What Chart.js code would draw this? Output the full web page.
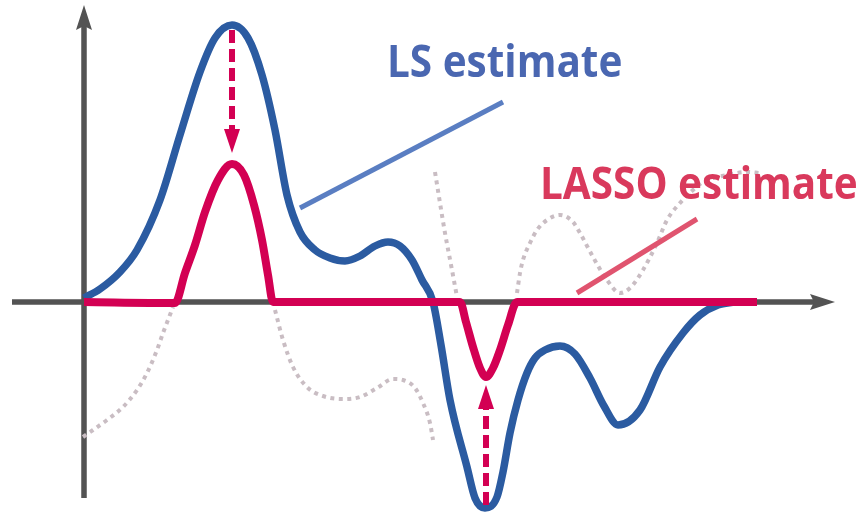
<!DOCTYPE html>
<html>
<head>
<meta charset="utf-8">
<title>LS vs LASSO estimate</title>
<script src="https://cdn.jsdelivr.net/npm/chart.js@4/dist/chart.umd.min.js"></script>
<style>
  html, body { margin: 0; padding: 0; background: #ffffff; }
  #wrap { position: relative; width: 866px; height: 519px; }
</style>
</head>
<body>
<div id="wrap"><canvas id="chart"></canvas></div>
<script>
// Least-squares estimate (smooth curve)
const lsX = [0, 16, 36, 53, 76, 96, 116, 131, 148, 164, 178, 191, 203, 216, 231, 246, 261, 276, 291, 304, 316, 328, 338, 349, 357, 366, 383, 391, 401, 413, 419, 426, 434, 443, 451, 461, 476, 491, 506, 520, 534, 556, 576, 599, 616, 634, 651];
const lsY = [4, 13, 30, 52, 102, 167, 230, 264, 277, 264, 227, 172, 107, 70, 52, 44, 41, 46, 56, 60, 56, 42, 22, 0, -43, -98, -165, -196, -206, -195, -170, -131, -98, -71, -56, -48, -44, -52, -76, -104, -123, -108, -65, -31, -13, -3, 0];

// LASSO estimate (soft-thresholded: zero outside the two bumps)
const lassoX = [0, 91, 101, 111, 121, 134, 148, 160, 170, 178, 184, 189, 376, 382, 389, 396, 402, 409, 416, 424, 433, 673];
const lassoY = [0, -1, 29, 57, 90, 122, 138, 127, 97, 62, 27, 0, 0, -20, -45, -66, -75, -66, -48, -23, 0, 0];

// Dotted continuations of the thresholded pieces
const ghostAX = [-1, 9, 23, 39, 53, 63, 73, 79, 84, 89];
const ghostAY = [-135, -128, -118, -105, -88, -71, -48, -31, -18, -5];
const ghostBX = [191, 199, 209, 223, 239, 259, 276, 293, 309, 319, 331, 339, 346, 349];
const ghostBY = [-8, -38, -65, -85, -94, -97, -95, -86, -77, -78, -86, -101, -121, -138];
const ghostCX = [351, 356, 361, 368, 373];
const ghostCY = [130, 99, 69, 32, 5];
const ghostDX = [433, 436, 439, 446, 453, 463, 476, 489, 496, 509, 523, 536, 546, 559, 573, 583, 596, 609, 619, 643, 663, 676];
const ghostDY = [9, 29, 42, 59, 72, 82, 87, 80, 69, 45, 22, 9, 14, 32, 59, 82, 99, 112, 120, 127, 130, 129];

// Shrinkage arrows: [x, fromY, toY]
const shrinkDown = [148, 272, 149];
const shrinkUp = [402, -203, -83];

// Label pointers: [x0, y0, x1, y1]
const lsPointer = [216, 94, 419, 200];
const lassoPointer = [493, 9, 613, 83];

// Labels: [text, x, y] (left edge, baseline)
const lsLabel = ['LS estimate', 303, 225];
const lassoLabel = ['LASSO estimate', 456, 103];

// Axis extents
const xAxisSpan = [-72, 751];
const yAxisSpan = [-196, 297];
const xRange = [-84, 782];
const yRange = [-217, 302];

const COL = {
  axis: '#535353',
  ls: '#2b5ba1',
  lasso: '#d30053',
  ghost: '#c9bdc3',
  lsText: '#4a67b1',
  lassoText: '#d9395c',
  lsPtr: '#5a7ec2',
  lassoPtr: '#e0546f'
};

const pts = (xs, ys) => xs.map((x, i) => ({ x, y: ys[i] }));

function curve(xs, ys, color, width, order, extra) {
  return Object.assign({
    data: pts(xs, ys),
    borderColor: color,
    borderWidth: width,
    pointRadius: 0,
    fill: false,
    cubicInterpolationMode: 'monotone',
    order
  }, extra || {});
}

function segment(p, color, width, order, extra) {
  return Object.assign({
    data: [{ x: p[0], y: p[1] }, { x: p[2], y: p[3] }],
    borderColor: color,
    borderWidth: width,
    pointRadius: 0,
    fill: false,
    tension: 0,
    borderCapStyle: 'butt',
    order
  }, extra || {});
}

const dotted = { borderDash: [4, 4.5], borderCapStyle: 'butt' };
const dashed = { borderDash: [13, 6], borderCapStyle: 'butt' };

function arrowHead(ctx, tipX, tipY, dx, dy, len, half, notch, color) {
  const bx = tipX - dx * len, by = tipY - dy * len;
  const px = -dy, py = dx;
  ctx.beginPath();
  ctx.moveTo(tipX, tipY);
  ctx.lineTo(bx + px * half, by + py * half);
  ctx.lineTo(tipX - dx * (len - notch), tipY - dy * (len - notch));
  ctx.lineTo(bx - px * half, by - py * half);
  ctx.closePath();
  ctx.fillStyle = color;
  ctx.fill();
}

const axesPlugin = {
  id: 'axesArrows',
  beforeDatasetsDraw(chart) {
    const { ctx, scales: { x, y } } = chart;
    const x0 = x.getPixelForValue(0), y0 = y.getPixelForValue(0);
    const xa = x.getPixelForValue(xAxisSpan[0]), xb = x.getPixelForValue(xAxisSpan[1]);
    const ya = y.getPixelForValue(yAxisSpan[0]), yb = y.getPixelForValue(yAxisSpan[1]);
    ctx.save();
    ctx.strokeStyle = COL.axis;
    ctx.lineWidth = 5.5;
    ctx.lineCap = 'butt';
    ctx.beginPath();
    ctx.moveTo(xa, y0); ctx.lineTo(xb - 20, y0);
    ctx.moveTo(x0, ya); ctx.lineTo(x0, yb + 20);
    ctx.stroke();
    arrowHead(ctx, xb, y0, 1, 0, 25, 8, 4, COL.axis);
    arrowHead(ctx, x0, yb, 0, -1, 25, 8, 4, COL.axis);
    ctx.restore();
  }
};

function drawLabel(ctx, label, x, y, color) {
  ctx.save();
  ctx.translate(x.getPixelForValue(label[1]), y.getPixelForValue(label[2]));
  ctx.scale(0.92, 1);
  ctx.font = '700 44px "Open Sans", sans-serif';
  ctx.textBaseline = 'alphabetic';
  ctx.textAlign = 'left';
  ctx.fillStyle = color;
  ctx.fillText(label[0], 0, 0);
  ctx.restore();
}

const overlayPlugin = {
  id: 'overlay',
  afterDatasetsDraw(chart) {
    const { ctx, scales: { x, y } } = chart;
    ctx.save();
    // heads of the shrinkage arrows
    arrowHead(ctx, x.getPixelForValue(shrinkDown[0]), y.getPixelForValue(shrinkDown[2]), 0, 1, 24, 8, 0, COL.lasso);
    arrowHead(ctx, x.getPixelForValue(shrinkUp[0]), y.getPixelForValue(shrinkUp[2]), 0, -1, 24, 8, 0, COL.lasso);
    ctx.restore();
    drawLabel(ctx, lsLabel, x, y, COL.lsText);
    drawLabel(ctx, lassoLabel, x, y, COL.lassoText);
  }
};

const headLen = 24;
const datasets = [
  segment([shrinkDown[0], shrinkDown[1], shrinkDown[0], shrinkDown[2] + headLen], COL.lasso, 6, 1, dashed),
  segment([shrinkUp[0], shrinkUp[1], shrinkUp[0], shrinkUp[2] - headLen], COL.lasso, 6, 1, dashed),
  segment(lsPointer, COL.lsPtr, 5, 2),
  segment(lassoPointer, COL.lassoPtr, 5, 2),
  curve(lassoX, lassoY, COL.lasso, 8, 3),
  curve(lsX, lsY, COL.ls, 7.5, 4),
  curve(ghostAX, ghostAY, COL.ghost, 4, 5, dotted),
  curve(ghostBX, ghostBY, COL.ghost, 4, 5, dotted),
  curve(ghostCX, ghostCY, COL.ghost, 4, 5, dotted),
  curve(ghostDX, ghostDY, COL.ghost, 4, 5, dotted)
];

new Chart(document.getElementById('chart'), {
  type: 'line',
  data: { datasets },
  options: {
    responsive: true,
    maintainAspectRatio: false,
    animation: false,
    layout: { padding: 0 },
    scales: {
      x: { type: 'linear', min: xRange[0], max: xRange[1], display: false },
      y: { type: 'linear', min: yRange[0], max: yRange[1], display: false }
    },
    plugins: { legend: { display: false }, tooltip: { enabled: false } },
    elements: { line: { capBezierPoints: false } }
  },
  plugins: [axesPlugin, overlayPlugin]
});
</script>
</body>
</html>
